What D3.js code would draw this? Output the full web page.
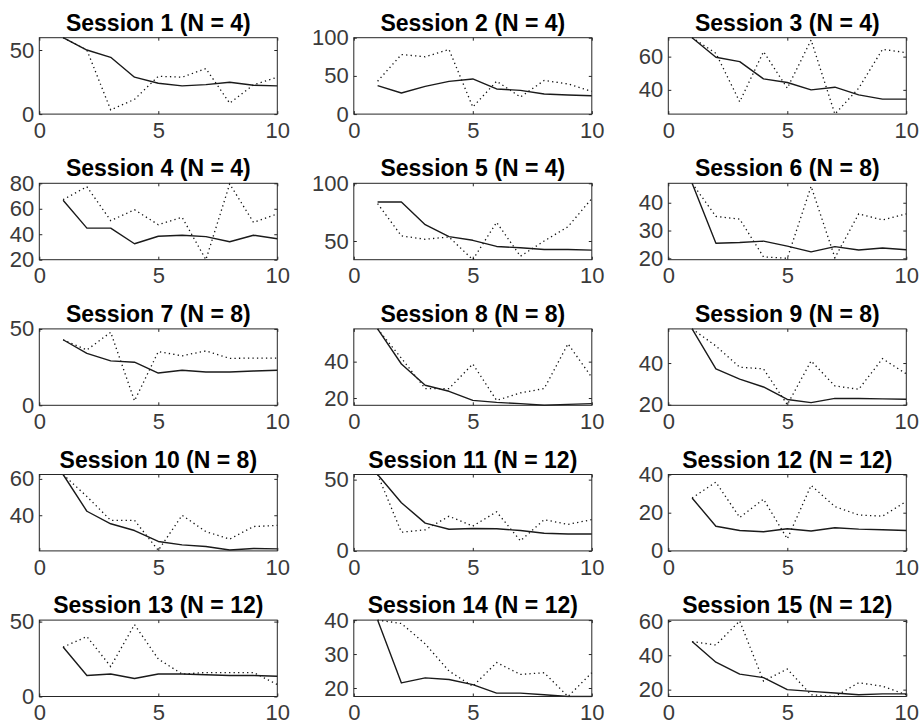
<!DOCTYPE html>
<html>
<head>
<meta charset="utf-8">
<script src="https://cdn.jsdelivr.net/npm/d3@7"></script>
<style>
  body { margin: 0; background: #fff; }
  svg { display: block; }
  .tick-label { font-family: "Liberation Sans", Arial, Helvetica, sans-serif; font-size: 22px; fill: #3a3a3a; }
  .panel-title { font-family: "Liberation Sans", Arial, Helvetica, sans-serif; font-size: 23px; font-weight: bold; fill: #000; }
</style>
</head>
<body>
<svg id="chart" width="923" height="728"></svg>
<script>
// ---- data ----
const sessionTitles = [
  "Session 1 (N = 4)", "Session 2 (N = 4)", "Session 3 (N = 4)",
  "Session 4 (N = 4)", "Session 5 (N = 4)", "Session 6 (N = 8)",
  "Session 7 (N = 8)", "Session 8 (N = 8)", "Session 9 (N = 8)",
  "Session 10 (N = 8)", "Session 11 (N = 12)", "Session 12 (N = 12)",
  "Session 13 (N = 12)", "Session 14 (N = 12)", "Session 15 (N = 12)"
];

const trials = [1, 2, 3, 4, 5, 6, 7, 8, 9, 10];

// solid line per session
const solidSeries = [
  [59.6, 50.0, 44.3, 28.8, 24.1, 22.0, 23.0, 24.9, 22.5, 22.0],
  [37.2, 27.6, 36.3, 42.9, 46.0, 32.9, 31.0, 26.3, 25.0, 24.0],
  [71.4, 59.6, 57.0, 46.6, 44.4, 40.0, 41.6, 37.0, 34.4, 34.4],
  [66.7, 44.8, 44.8, 32.5, 38.4, 39.2, 38.1, 34.1, 39.2, 36.5],
  [83.8, 83.8, 64.1, 53.8, 50.6, 45.3, 44.1, 42.6, 42.6, 42.1],
  [47.0, 25.4, 25.7, 26.2, 24.4, 22.3, 24.2, 23.0, 23.7, 23.1],
  [42.9, 34.0, 29.1, 28.2, 21.1, 22.9, 21.8, 21.8, 22.4, 22.9],
  [58.0, 38.7, 27.0, 23.7, 18.7, 17.6, 16.9, 16.0, 16.5, 16.9],
  [56.4, 37.2, 32.3, 28.5, 22.5, 21.0, 23.0, 23.0, 22.8, 22.6],
  [62.4, 42.2, 35.3, 31.6, 25.6, 23.7, 22.8, 20.9, 21.7, 21.5],
  [53.6, 33.8, 19.5, 15.2, 15.7, 15.5, 14.3, 12.4, 11.9, 11.9],
  [27.7, 12.9, 10.7, 10.0, 11.6, 10.4, 12.1, 11.4, 11.1, 10.7],
  [33.0, 14.0, 15.0, 12.0, 15.0, 15.0, 14.5, 14.0, 14.0, 13.5],
  [40.0, 21.5, 23.0, 22.5, 21.0, 18.5, 18.5, 18.0, 17.5, 17.5],
  [48.0, 36.0, 29.0, 27.0, 20.0, 19.0, 18.0, 17.0, 17.5, 17.5]
];

// dotted line per session
const dottedSeries = [
  [59.6, 50.0, 3.3, 11.5, 29.5, 28.8, 35.5, 8.5, 22.8, 28.8],
  [43.0, 78.0, 75.0, 84.6, 9.2, 43.0, 22.4, 44.0, 39.5, 29.7],
  [71.4, 62.0, 32.8, 63.0, 41.0, 70.0, 25.4, 41.0, 64.4, 62.4],
  [67.2, 77.3, 50.7, 59.2, 47.5, 53.3, 20.0, 79.5, 49.3, 56.0],
  [82.4, 54.4, 51.5, 53.5, 33.8, 66.2, 36.8, 50.0, 62.4, 86.8],
  [47.0, 35.1, 34.1, 20.5, 20.0, 45.9, 20.2, 36.0, 33.8, 36.0],
  [42.9, 36.2, 47.8, 2.9, 35.1, 32.4, 35.6, 30.7, 30.9, 30.9],
  [58.0, 41.9, 25.2, 25.2, 38.7, 18.7, 22.8, 25.2, 49.8, 31.3],
  [56.4, 48.2, 38.0, 37.2, 20.0, 41.0, 29.0, 27.4, 42.1, 34.8],
  [62.4, 50.3, 37.2, 37.2, 20.7, 40.0, 31.0, 26.9, 33.8, 34.4],
  [53.6, 13.1, 14.8, 24.3, 17.4, 27.4, 7.1, 21.9, 18.6, 21.9],
  [27.7, 36.0, 17.5, 27.1, 6.3, 34.3, 23.2, 18.8, 18.2, 25.9],
  [33.0, 40.0, 20.0, 48.0, 25.0, 15.0, 16.0, 16.0, 16.0, 8.0],
  [40.0, 39.0, 33.0, 25.0, 20.5, 27.5, 24.0, 24.5, 17.5, 24.5],
  [48.0, 46.0, 60.0, 25.0, 32.0, 17.0, 16.0, 24.0, 22.0, 17.0]
];

// y-axis limits per session
const yLimits = [
  [0, 59.6], [0, 100], [25.4, 71.4],
  [20, 80], [33.8, 100], [19.5, 47],
  [0, 50], [16, 58], [19.7, 56.4],
  [20.4, 62.4], [0, 53.6], [0, 40],
  [0, 51], [17.5, 40], [16, 60.5]
];

// y-axis tick labels per session
const yTicks = [
  [0, 50], [0, 50, 100], [40, 60],
  [20, 40, 60, 80], [50, 100], [20, 30, 40],
  [0, 50], [20, 40], [20, 40],
  [40, 60], [0, 50], [0, 20, 40],
  [0, 50], [20, 30, 40], [20, 40, 60]
];

const xLimits = [0, 10];
const xTicks = [0, 5, 10];

// ---- layout ----
const nCols = 3;
const colLeft0 = 39.3, colStep = 314.5, plotW = 238;
const rowTop0 = 37.7, rowStep = 145.6, plotH = 76.4;
const tickLen = 3;
const axisColor = "#262626";

const svg = d3.select("#chart");

sessionTitles.forEach((title, i) => {
  const col = i % nCols, row = Math.floor(i / nCols);
  const left = colLeft0 + col * colStep;
  const top = rowTop0 + row * rowStep;

  const x = d3.scaleLinear().domain(xLimits).range([0, plotW]);
  const y = d3.scaleLinear().domain(yLimits[i]).range([plotH, 0]);

  const g = svg.append("g").attr("transform", `translate(${left},${top})`);

  const clipId = `clip-${i}`;
  g.append("clipPath").attr("id", clipId)
    .append("rect").attr("x", -1).attr("y", -1).attr("width", plotW + 2).attr("height", plotH + 2);

  // bottom axis with labels, ticks pointing inward
  const xAxis = g.append("g").attr("transform", `translate(0,${plotH})`)
    .call(d3.axisBottom(x).tickValues(xTicks).tickFormat(d3.format("d"))
      .tickSizeInner(-tickLen).tickSizeOuter(0).tickPadding(8));
  // left axis with labels
  const yAxis = g.append("g")
    .call(d3.axisLeft(y).tickValues(yTicks[i]).tickFormat(d3.format("d"))
      .tickSizeInner(-tickLen).tickSizeOuter(0).tickPadding(5));
  // mirrored ticks on top and right
  const xTop = g.append("g")
    .call(d3.axisTop(x).tickValues(xTicks).tickFormat("")
      .tickSizeInner(-tickLen).tickSizeOuter(0));
  const yRight = g.append("g").attr("transform", `translate(${plotW},0)`)
    .call(d3.axisRight(y).tickValues(yTicks[i]).tickFormat("")
      .tickSizeInner(-tickLen).tickSizeOuter(0));

  [xAxis, yAxis, xTop, yRight].forEach(a => {
    a.select(".domain").remove();
    a.selectAll(".tick line").attr("stroke", axisColor).attr("stroke-width", 1);
    a.selectAll(".tick text").attr("class", "tick-label").attr("fill", null);
  });
  xAxis.selectAll(".tick text").attr("dy", "0.71em");

  // series lines
  const line = d3.line()
    .x((d, k) => x(trials[k]))
    .y(d => y(d));

  const lines = g.append("g").attr("clip-path", `url(#${clipId})`);
  lines.append("path")
    .datum(dottedSeries[i])
    .attr("d", line)
    .attr("fill", "none")
    .attr("stroke", "#111")
    .attr("stroke-width", 1.3)
    .attr("stroke-dasharray", "1.3,3.2");
  lines.append("path")
    .datum(solidSeries[i])
    .attr("d", line)
    .attr("fill", "none")
    .attr("stroke", "#1a1a1a")
    .attr("stroke-width", 1.4)
    .attr("stroke-linejoin", "round");

  // axes box
  g.append("rect")
    .attr("x", 0).attr("y", 0).attr("width", plotW).attr("height", plotH)
    .attr("fill", "none").attr("stroke", axisColor).attr("stroke-width", 1);

  // title
  g.append("text")
    .attr("class", "panel-title")
    .attr("x", plotW / 2)
    .attr("y", -7)
    .attr("text-anchor", "middle")
    .text(title);
});
</script>
</body>
</html>
